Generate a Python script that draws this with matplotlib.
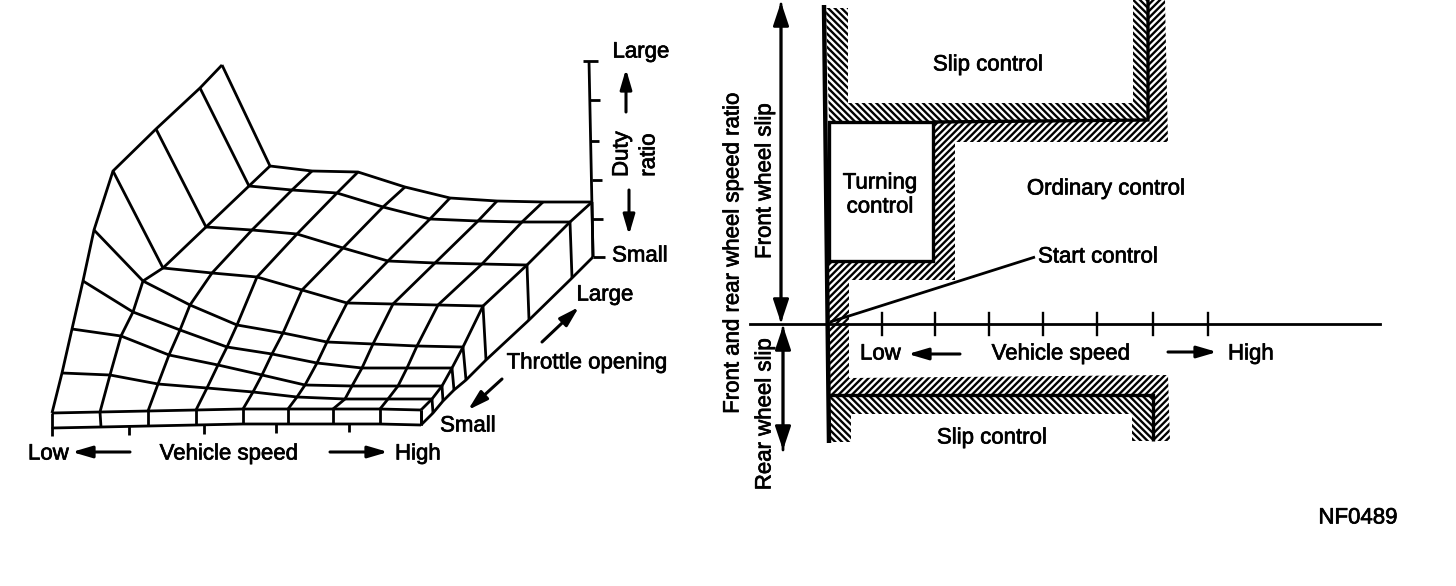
import matplotlib
matplotlib.use('Agg')
import matplotlib.pyplot as plt
import matplotlib.patheffects as pe
from matplotlib.patches import Polygon

plt.rcParams['font.family'] = ['Liberation Sans', 'DejaVu Sans']
plt.rcParams['hatch.linewidth'] = 1.7

# surface grid, throttle rows from small (front) to large (back)
row_0 = [(52, 413), (100, 412), (148, 411), (196, 410), (243, 409), (288, 409), (333, 409), (380, 409), (421, 410)]
row_1 = [(62, 373), (110, 375), (158, 384), (207, 388), (253, 392), (297, 397), (345, 399), (388, 399), (432, 399)]
row_2 = [(72, 329), (121, 336), (169, 355), (218, 365), (262, 375), (305, 385), (352, 386), (398, 386), (442, 386)]
row_3 = [(83, 281), (133, 312), (180, 330), (227, 347), (272, 354), (317, 363), (362, 368), (407, 368), (452, 368)]
row_4 = [(94, 230), (143, 281), (190, 305), (237, 325), (283, 333), (327, 342), (373, 344), (417, 346), (463, 347)]
row_5 = [(113, 171), (163, 268), (212, 273), (257, 277), (302, 290), (347, 303), (393, 304), (438, 305), (483, 306)]
row_6 = [(156, 129), (206, 227), (252, 230), (297, 234), (343, 248), (388, 261), (435, 263), (482, 264), (527, 265)]
row_7 = [(200, 88), (249, 186), (292, 190), (337, 193), (383, 207), (430, 219), (478, 221), (522, 222), (570, 222)]
row_8 = [(222, 65), (270, 166), (312, 171), (358, 172), (405, 187), (450, 198), (497, 201), (543, 202), (592, 202)]
surface_rows = [row_0, row_1, row_2, row_3, row_4, row_5, row_6, row_7, row_8]

base_front = [(52, 428), (101, 427), (148, 426), (196, 425), (243, 424), (288, 424), (333, 424), (380, 424), (421, 425)]
base_side = [(421, 425), (433, 413), (443, 401), (454, 390), (466, 380), (486, 360), (529, 320), (572, 278), (593, 257)]
speed_tick_x = [52, 129, 204, 276, 349]
duty_axis = [(589, 61), (593, 257)]
duty_ticks = [(583, 61, 598), (590, 100, 600), (591, 141, 599), (592, 180, 602), (592, 219, 603), (593, 257, 605)]

# right diagram, regions of the map
upper_left = [(826, 8), (848, 8), (848, 103), (1133, 103), (1133, 0), (1148, 0), (1148, 120), (933, 122), (829, 122)]
upper_right = [(1148, 0), (1165, 0), (1168, 142), (955, 142), (955, 280), (849, 280), (849, 395), (828, 395), (828, 261), (933, 261), (933, 122), (1148, 120)]
lower_top = [(849, 378), (1168, 375), (1170, 441), (1153, 441), (1153, 395), (849, 395)]
lower_bottom = [(828, 395), (1153, 395), (1153, 441), (1132, 441), (1132, 414), (851, 414), (851, 442), (828, 442)]
turning_box = [(829, 122), (933, 122), (933, 261), (829, 261)]
main_line = [(824, 5), (829, 443)]
lower_spine = [(829, 395), (1153, 395), (1153, 441)]
upper_spine = [(1148, 0), (1148, 120), (933, 122)]
start_leader = [(1035, 257), (830, 322)]

speed_axis_x = [750, 1380]
speed_axis_y = 324
wheel_tick_x = [882, 935, 989, 1043, 1097, 1153, 1208]

# text label, x, y, ha, rotation
labels = [
    ('Large', 641, 52, 'center', 0),
    ('Small', 640, 256, 'center', 0),
    ('Large', 605, 295, 'center', 0),
    ('Throttle opening', 587, 363, 'center', 0),
    ('Small', 468, 426, 'center', 0),
    ('Low', 28, 454, 'left', 0),
    ('Vehicle speed', 229, 454, 'center', 0),
    ('High', 395, 454, 'left', 0),
    ('Duty', 622, 154, 'center', 90),
    ('ratio', 649, 155, 'center', 90),
    ('Slip control', 988, 65, 'center', 0),
    ('Ordinary control', 1106, 189, 'center', 0),
    ('Turning', 880, 183, 'center', 0),
    ('control', 880, 207, 'center', 0),
    ('Start control', 1038, 257, 'left', 0),
    ('Low', 860, 354, 'left', 0),
    ('Vehicle speed', 1061, 354, 'center', 0),
    ('High', 1228, 354, 'left', 0),
    ('Slip control', 992, 438, 'center', 0),
    ('NF0489', 1358, 518, 'center', 0),
    ('Front wheel slip', 765, 181, 'center', 90),
    ('Rear wheel slip', 765, 414, 'center', 90),
    ('Front and rear wheel speed ratio', 733, 253, 'center', 90),
]

# arrow start, arrow tip
arrows = [
    ((130, 452), (72, 452)),
    ((330, 452), (388, 452)),
    ((542, 342), (579, 307)),
    ((502, 379), (468, 410)),
    ((626, 112), (626, 69)),
    ((629, 190), (629, 235)),
    ((960, 354), (908, 354)),
    ((1168, 352), (1217, 352)),
]
double_arrows = [
    ((781, 320), (781, 2)),
    ((781, 4), (781, 323)),
    ((783, 450), (783, 326)),
    ((783, 328), (783, 450)),
]

fig = plt.figure(figsize=(14.56, 5.86), dpi=100)
ax = fig.add_axes([0, 0, 1, 1])
ax.set_xlim(0, 1456)
ax.set_ylim(586, 0)
ax.axis('off')

lw = 2.0


def draw_line(points, width=lw):
    ax.plot([p[0] for p in points], [p[1] for p in points], color='black', lw=width,
            solid_joinstyle='miter', solid_capstyle='butt')


# left: wireframe
for row in surface_rows:
    draw_line(row)
for i in range(len(row_0)):
    draw_line([row[i] for row in surface_rows])
draw_line(base_front)
draw_line(base_side)
for top, bottom in zip(row_0, base_front):
    draw_line([top, bottom])
for row, bottom in zip(surface_rows, base_side):
    draw_line([row[-1], bottom])
for x in speed_tick_x:
    y = 427 - (x - 52) * 4 / 297
    draw_line([(x, y), (x, y + 9)])
draw_line(duty_axis)
for x1, y, x2 in duty_ticks:
    draw_line([(x1, y), (x2, y)])

# right: hatched bands
for pts, hatch in [(upper_left, '\\' * 5), (upper_right, '/' * 5), (lower_top, '/' * 5), (lower_bottom, '\\' * 5)]:
    ax.add_patch(Polygon(pts, closed=True, facecolor='none', edgecolor='black', hatch=hatch, linewidth=0))

ax.add_patch(Polygon(turning_box, closed=True, facecolor='white', edgecolor='black', linewidth=2.4))
draw_line(main_line, 3.2)
draw_line(lower_spine, 2.4)
draw_line(upper_spine, 2.4)
draw_line(start_leader, 2.0)

ax.plot(speed_axis_x, [speed_axis_y, speed_axis_y], color='black', lw=2.0)
for x in wheel_tick_x:
    ax.plot([x, x], [313, 335], color='black', lw=1.7)

for start, tip in arrows:
    ax.annotate('', xy=tip, xytext=start,
                arrowprops=dict(arrowstyle='-|>,head_length=0.75,head_width=0.22', color='black', lw=2.2,
                                mutation_scale=16, shrinkA=0, shrinkB=0))
for start, tip in double_arrows:
    ax.annotate('', xy=tip, xytext=start,
                arrowprops=dict(arrowstyle='-|>,head_length=0.9,head_width=0.3', color='black', lw=2.0,
                                mutation_scale=16, shrinkA=0, shrinkB=0))

for text, x, y, ha, rot in labels:
    t = ax.text(x, y, text, fontsize=16, ha=ha, va='center', rotation=rot, color='black',
                rotation_mode='anchor' if rot == 0 else 'default')
    t.set_path_effects([pe.withStroke(linewidth=0.5, foreground='black')])

fig.savefig('out.png', dpi=100, facecolor='white')
